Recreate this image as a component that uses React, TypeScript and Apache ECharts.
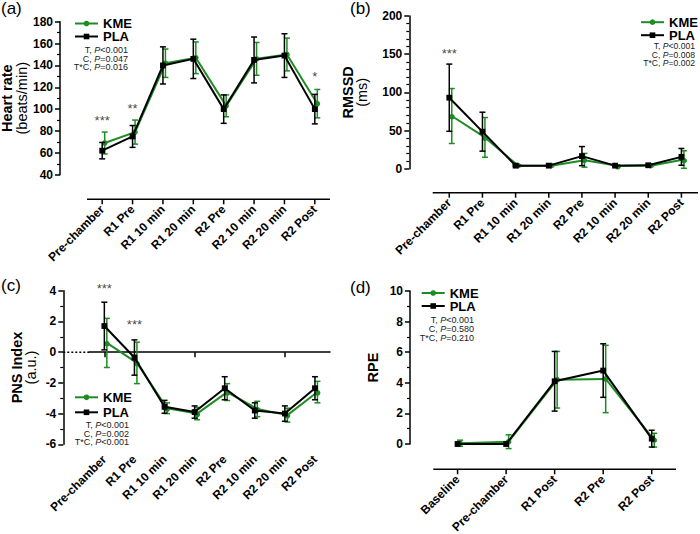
import React, { useEffect, useRef } from 'react';
import * as echarts from 'echarts';

const FONT = '"Liberation Sans", Arial, Helvetica, sans-serif';
const GREEN = '#1f8b24';
const BLACK = '#000000';

// ---------- data ----------
const hrCategories = ['Pre-chamber', 'R1 Pre', 'R1 10 min', 'R1 20 min', 'R2 Pre', 'R2 10 min', 'R2 20 min', 'R2 Post'];
const rpeCategories = ['Baseline', 'Pre-chamber', 'R1 Post', 'R2 Pre', 'R2 Post'];

const hrKME = [69, 79, 142, 147, 103, 146, 150, 105];
const hrKMEErr = [10, 11, 13, 14.5, 10, 15, 15, 13];
const hrPLA = [62, 75, 140, 146, 100, 145, 149, 100];
const hrPLAErr = [7.5, 10, 17, 18, 13, 21, 20, 13.5];

const rmssdKME = [69, 41, 4, 4, 11, 4, 4, 12];
const rmssdKMEErr = [36, 26, 1, 1, 9, 1, 1, 11.5];
const rmssdPLA = [93, 48.5, 4, 4, 16.5, 4, 4.5, 15.5];
const rmssdPLAErr = [44, 25.5, 1, 1, 12.5, 1, 1, 11];

const pnsKME = [0.6, -0.7, -3.65, -4.0, -2.6, -3.7, -4.1, -2.6];
const pnsKMEErr = [1.6, 1.35, 0.35, 0.4, 0.55, 0.5, 0.45, 0.7];
const pnsPLA = [1.7, -0.35, -3.56, -3.9, -2.35, -3.8, -4.0, -2.35];
const pnsPLAErr = [1.55, 1.15, 0.42, 0.4, 0.75, 0.5, 0.5, 0.75];

const rpeKME = [0.05, 0.15, 4.2, 4.25, 0.25];
const rpeKMEErr = [0.2, 0.45, 1.85, 2.2, 0.45];
const rpePLA = [0, 0, 4.1, 4.8, 0.35];
const rpePLAErr = [0, 0, 1.95, 1.75, 0.55];

const statsA = ['T, P<0.001', 'C, P=0.047', 'T*C, P=0.016'];
const statsB = ['T, P<0.001', 'C, P=0.008', 'T*C, P=0.002'];
const statsC = ['T, P<0.001', 'C, P=0.002', 'T*C, P<0.001'];
const statsD = ['T, P<0.001', 'C, P=0.580', 'T*C, P=0.210'];

const sigA = [
  { cat: 0, y: 93, text: '***' },
  { cat: 1, y: 104, text: '**' },
  { cat: 7, y: 133, text: '*' },
];
const sigB = [{ cat: 0, y: 155, text: '***' }];
const sigC = [
  { cat: 0, y: 4.4, text: '***' },
  { cat: 1, y: 2.0, text: '***' },
];

const panelLabels = ['(a)', '(b)', '(c)', '(d)'];

// plot-area geometry (left, top, width, height) and detached x-axis offsets
const GRIDS = [
  [87, 21.7, 243, 153],
  [432.7, 16, 265.3, 152.7],
  [89.3, 290.7, 240.7, 153.6],
  [433.3, 291, 242.7, 153],
];
const X_OFFSETS = [24.6, 24, 5, 25.3];
const X_LINE_SHOWN = [true, true, false, true];
const PANEL_CATS = [hrCategories, hrCategories, hrCategories, rpeCategories];

// ---------- helpers ----------
function markSeries(
  name: string,
  values: number[],
  errs: number[],
  color: string,
  symbol: 'circle' | 'rect',
  xAxisIndex: number,
  yAxisIndex: number,
  dx: number,
  z: number
) {
  return {
    type: 'custom',
    name: name,
    xAxisIndex,
    yAxisIndex,
    z,
    clip: false,
    silent: true,
    data: values.map((v, i) => [i, v, errs[i]]),
    renderItem: (params: any, api: any) => {
      const i = api.value(0);
      const v = api.value(1);
      const e = api.value(2);
      const p = api.coord([i, v]);
      const cx = p[0] + dx;
      const cy = p[1];
      const children: any[] = [];
      if (i < values.length - 1) {
        const q = api.coord([i + 1, values[i + 1]]);
        children.push({
          type: 'line',
          z2: 1,
          shape: { x1: cx, y1: cy, x2: q[0] + dx, y2: q[1] },
          style: { stroke: color, lineWidth: 2 },
        });
      }
      if (e > 0) {
        const yt = api.coord([i, v + e])[1];
        const yb = api.coord([i, v - e])[1];
        const cap = 3;
        children.push({ type: 'line', z2: 2, shape: { x1: cx, y1: yt, x2: cx, y2: yb }, style: { stroke: color, lineWidth: 1.5 } });
        children.push({ type: 'line', z2: 2, shape: { x1: cx - cap, y1: yt, x2: cx + cap, y2: yt }, style: { stroke: color, lineWidth: 1.5 } });
        children.push({ type: 'line', z2: 2, shape: { x1: cx - cap, y1: yb, x2: cx + cap, y2: yb }, style: { stroke: color, lineWidth: 1.5 } });
      }
      if (symbol === 'circle') {
        children.push({ type: 'circle', z2: 3, shape: { cx, cy, r: 2.8 }, style: { fill: color } });
      } else {
        children.push({ type: 'rect', z2: 3, shape: { x: cx - 2.9, y: cy - 2.9, width: 5.8, height: 5.8 }, style: { fill: color } });
      }
      return { type: 'group', children };
    },
  };
}

// rotated category labels of a detached x axis
function categoryLabelSeries(categories: string[], xAxisIndex: number, yAxisIndex: number, offset: number) {
  return {
    type: 'custom',
    xAxisIndex,
    yAxisIndex,
    z: 1,
    clip: false,
    silent: true,
    data: categories.map((c, i) => [i, 0]),
    renderItem: (params: any, api: any) => {
      const cs = params.coordSys;
      const i = api.value(0);
      const x = api.coord([i, 0])[0];
      const yLine = cs.y + cs.height + offset;
      return {
        type: 'text',
        x: x,
        y: yLine + 8,
        rotation: Math.PI / 4,
        style: {
          text: categories[i],
          align: 'right',
          verticalAlign: 'middle',
          fontFamily: FONT,
          fontWeight: 'bold',
          fontSize: 12,
          fill: '#000',
        },
      };
    },
  };
}

function sigSeries(sig: { cat: number; y: number; text: string }[], xAxisIndex: number, yAxisIndex: number) {
  return {
    type: 'scatter',
    xAxisIndex,
    yAxisIndex,
    clip: false,
    silent: true,
    symbolSize: 1,
    itemStyle: { color: 'rgba(0,0,0,0)' },
    data: sig.map((s) => ({ value: [s.cat, s.y], name: s.text })),
    label: {
      show: true,
      position: 'inside',
      offset: [0, 3.5],
      formatter: (p: any) => p.name,
      fontFamily: FONT,
      fontSize: 13,
      color: '#111',
    },
  };
}

function yAxis(gridIndex: number, min: number, max: number, interval: number, minorSplit: number, offset: number, name: string, nameGap: number) {
  return {
    type: 'value',
    gridIndex,
    min,
    max,
    interval,
    offset,
    position: 'left',
    name,
    nameLocation: 'middle',
    nameRotate: 90,
    nameGap,
    nameTextStyle: {
      fontFamily: FONT,
      color: '#000',
      rich: {
        b: { fontFamily: FONT, fontWeight: 'bold', fontSize: 14.5, color: '#000', lineHeight: 14.5 },
        n: { fontFamily: FONT, fontSize: 14.5, color: '#000', lineHeight: 14.5 },
      },
    },
    axisLine: { show: true, onZero: false, lineStyle: { color: '#000', width: 1.5 } },
    axisTick: { show: true, length: 5, lineStyle: { color: '#000', width: 1.5 } },
    minorTick: { show: true, splitNumber: minorSplit, length: 3, lineStyle: { color: '#000', width: 1.2 } },
    splitLine: { show: false },
    minorSplitLine: { show: false },
    axisLabel: { fontFamily: FONT, fontWeight: 'bold', fontSize: 12, color: '#000', margin: 7 },
  };
}

function hiddenX(gridIndex: number, data: string[]) {
  return { type: 'category', gridIndex, data, show: false, boundaryGap: true };
}

function statsText(lines: string[], x: number, y: number, lh: number, fs: number) {
  const text = lines.map((l) => l.replace(/P([<=])/, '{i|P}$1')).join('\n');
  return {
    type: 'text',
    x,
    y,
    silent: true,
    style: {
      text,
      align: 'right',
      verticalAlign: 'top',
      fontFamily: FONT,
      fontSize: fs,
      lineHeight: lh,
      fill: '#222',
      rich: {
        i: { fontFamily: FONT, fontSize: fs, fontStyle: 'italic', lineHeight: lh, fill: '#222' },
      },
    },
  };
}

function legend(left: number, top: number, lh: number) {
  return {
    left,
    top,
    orient: 'vertical',
    data: ['KME', 'PLA'],
    itemWidth: 23,
    itemHeight: 7,
    itemGap: 0,
    padding: 0,
    selectedMode: false,
    textStyle: { fontFamily: FONT, fontSize: 13, fontWeight: 'bold', color: '#000', lineHeight: lh },
  };
}

export default function App() {
  const ref = useRef<HTMLDivElement>(null);

  useEffect(() => {
    if (!ref.current) return;
    const chart = echarts.init(ref.current, undefined, { renderer: 'svg' });

    const option: any = {
      animation: false,
      backgroundColor: '#ffffff',
      grid: GRIDS.map(([left, top, width, height]) => ({ left, top, width, height, outerBoundsMode: 'none' })),
      xAxis: [
        hiddenX(0, hrCategories),
        hiddenX(1, hrCategories),
        // zero line axis for (c)
        {
          type: 'category',
          gridIndex: 2,
          data: hrCategories,
          position: 'top',
          boundaryGap: true,
          axisLine: { show: true, onZero: true, lineStyle: { color: '#000', width: 1.5 } },
          axisTick: { show: true, inside: true, alignWithLabel: true, length: 5, lineStyle: { color: '#000', width: 1.5 } },
          axisLabel: { show: false },
          splitLine: { show: false },
        },
        hiddenX(3, rpeCategories),
      ],
      yAxis: [
        yAxis(0, 40, 180, 20, 2, 27, '{b|Heart rate}\n{n|(beats/min)}', 29),
        yAxis(1, 0, 200, 50, 5, 23.4, '{b|RMSSD}\n{n|(ms)}', 40),
        yAxis(2, -6, 4, 2, 2, 26, '{b|PNS Index}\n{n|(a.u.)}', 25),
        yAxis(3, 0, 10, 2, 2, 23.3, '{b|RPE}', 30),
      ],
      legend: [legend(74, 17, 12), legend(640, 15.7, 12), legend(74, 389.8, 15), legend(420.7, 286.5, 12.3)],
      series: [
        // legend carriers
        {
          type: 'line', name: 'KME', data: [], xAxisIndex: 0, yAxisIndex: 0,
          symbol: 'circle', symbolSize: 5, itemStyle: { color: GREEN }, lineStyle: { color: GREEN, width: 2 },
        },
        {
          type: 'line', name: 'PLA', data: [], xAxisIndex: 0, yAxisIndex: 0,
          symbol: 'rect', symbolSize: 6, itemStyle: { color: BLACK }, lineStyle: { color: BLACK, width: 2 },
        },
        categoryLabelSeries(hrCategories, 0, 0, X_OFFSETS[0]),
        categoryLabelSeries(hrCategories, 1, 1, X_OFFSETS[1]),
        categoryLabelSeries(hrCategories, 2, 2, X_OFFSETS[2]),
        categoryLabelSeries(rpeCategories, 3, 3, X_OFFSETS[3]),
        markSeries('KME-hr', hrKME, hrKMEErr, GREEN, 'circle', 0, 0, 2.5, 3),
        markSeries('PLA-hr', hrPLA, hrPLAErr, BLACK, 'rect', 0, 0, 0, 4),
        markSeries('KME-rmssd', rmssdKME, rmssdKMEErr, GREEN, 'circle', 1, 1, 2.5, 3),
        markSeries('PLA-rmssd', rmssdPLA, rmssdPLAErr, BLACK, 'rect', 1, 1, 0, 4),
        markSeries('KME-pns', pnsKME, pnsKMEErr, GREEN, 'circle', 2, 2, 2.5, 3),
        markSeries('PLA-pns', pnsPLA, pnsPLAErr, BLACK, 'rect', 2, 2, 0, 4),
        markSeries('KME-rpe', rpeKME, rpeKMEErr, GREEN, 'circle', 3, 3, 2.5, 3),
        markSeries('PLA-rpe', rpePLA, rpePLAErr, BLACK, 'rect', 3, 3, 0, 4),
        sigSeries(sigA, 0, 0),
        sigSeries(sigB, 1, 1),
        sigSeries(sigC, 2, 2),
      ],
    };
    chart.setOption(option);

    // detached x-axis lines and ticks, placed with the axes' own scales
    const axisEls: any[] = [];
    for (let k = 0; k < 4; k++) {
      if (!X_LINE_SHOWN[k]) continue;
      const [left, top, width, height] = GRIDS[k];
      const yLine = top + height + X_OFFSETS[k];
      axisEls.push({
        type: 'line',
        silent: true,
        z: 50,
        shape: { x1: left, y1: yLine, x2: left + width, y2: yLine },
        style: { stroke: '#000', lineWidth: 1.5 },
      });
      PANEL_CATS[k].forEach((c) => {
        const x = chart.convertToPixel({ xAxisIndex: k } as any, c) as unknown as number;
        axisEls.push({
          type: 'line',
          silent: true,
          z: 50,
          shape: { x1: x, y1: yLine, x2: x, y2: yLine + 5 },
          style: { stroke: '#000', lineWidth: 1.5 },
        });
      });
    }

    const y0 = chart.convertToPixel({ yAxisIndex: 2 } as any, 0) as unknown as number;
    const labelStyle = { fontFamily: FONT, fontSize: 17, fill: '#000' };
    chart.setOption({
      graphic: {
        elements: [
          { type: 'text', x: 1, y: 0, style: { ...labelStyle, text: panelLabels[0] } },
          { type: 'text', x: 350, y: 0, style: { ...labelStyle, text: panelLabels[1] } },
          { type: 'text', x: 1, y: 277, style: { ...labelStyle, text: panelLabels[2] } },
          { type: 'text', x: 350, y: 279, style: { ...labelStyle, text: panelLabels[3] } },
          statsText(statsA, 128, 45.5, 8.7, 9),
          statsText(statsB, 695, 42.3, 8.2, 8.6),
          statsText(statsC, 129, 421, 8.5, 9),
          statsText(statsD, 474, 315.5, 9.1, 9),
          {
            type: 'line',
            silent: true,
            shape: { x1: 63.3, y1: y0, x2: 89.3, y2: y0 },
            style: { stroke: '#000', lineWidth: 1.5, lineDash: [2, 2] },
          },
          ...axisEls,
        ],
      },
    });

    return () => {
      chart.dispose();
    };
  }, []);

  return (
    <div
      ref={ref}
      style={{ position: 'fixed', left: 0, top: 0, width: 700, height: 534, background: '#fff' }}
    />
  );
}
